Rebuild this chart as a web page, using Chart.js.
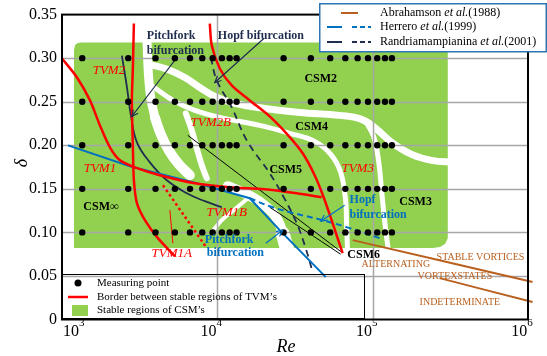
<!DOCTYPE html>
<html>
<head>
<meta charset="utf-8">
<script src="https://cdn.jsdelivr.net/npm/chart.js@4"></script>
<style>
  html, body { margin: 0; padding: 0; background: #fff; }
</style>
</head>
<body>
<canvas id="chart" width="547" height="356"></canvas>
<script>
// measuring grid
const reDots = [1350, 2670, 4000, 5330, 6670, 8000, 9330, 10700, 12000, 13300,
  26700, 40000, 53300, 66700, 80000, 93300, 107000, 120000, 133000];
const deltaRows = [0.30, 0.25, 0.20, 0.15, 0.10];

const xTicks = [1e3, 1e4, 1e5, 1e6];
const yTicks = [0, 0.05, 0.10, 0.15, 0.20, 0.25, 0.30, 0.35];

// [Re, delta] outline of the stable CSM regions
const csmRegion = [[1212, 0.309], [1230, 0.3145], [1270, 0.3163], [1330, 0.3168], [270000, 0.3168],
  [290000, 0.3157], [300000, 0.311], [300000, 0.0934], [290000, 0.0877], [270000, 0.0842],
  [243000, 0.0831], [1212, 0.0831], [1212, 0.309]];

// white gaps between the CSM regions
const gapLeftUpper = [[3518, 0.3248], [3570, 0.2939], [3624, 0.2744], [3733, 0.2538], [3962, 0.2320]];
const gapLeftLower = [[3962, 0.2320], [4330, 0.2125], [4870, 0.1942], [5650, 0.1782], [6650, 0.1656]];
const gapUpper = [[3679, 0.2927], [4800, 0.2870], [6177, 0.2778], [7712, 0.2664], [9630, 0.2561],
  [12950, 0.2480], [20190, 0.2423], [33890, 0.2377], [61270, 0.2343], [84880, 0.2297],
  [104400, 0.2194], [132300, 0.2034], [178000, 0.1896], [239600, 0.1827], [336500, 0.1804]];
const gapMiddle = [[3846, 0.2675], [5327, 0.2503], [7162, 0.2400], [10370, 0.2320], [18750, 0.2228],
  [29230, 0.2137], [42320, 0.2045], [53730, 0.1896], [62190, 0.1690], [66960, 0.1369],
  [67950, 0.1083], [68960, 0.0773]];
const gapRight = [[90200, 0.2274], [101400, 0.2102], [109100, 0.1827], [114100, 0.1484],
  [119300, 0.1140], [126500, 0.0773]];
const gapLobe = [[6270, 0.2366], [6850, 0.2171], [7375, 0.1965], [7945, 0.1770], [8555, 0.1621]];
const gapValley = [[11680, 0.1530], [15010, 0.1449], [19310, 0.1335], [23400, 0.1197],
  [26000, 0.1026], [28000, 0.0773]];
const gapValleyFoot = [[26300, 0.0990], [28300, 0.0790]];
const gapLens = [[15470, 0.1381], [12950, 0.1266], [10690, 0.1140], [9210, 0.1002]];

// borders between TVM regions
const tvm1Border = [[1000, 0.2996], [1249, 0.2778], [1514, 0.2515], [1755, 0.2228], [2035, 0.1976],
  [2360, 0.1827], [2946, 0.1747], [4266, 0.1656], [7162, 0.1564], [12020, 0.1518],
  [20190, 0.1495], [32420, 0.1449], [46950, 0.1404]];
const tvm2Border = [[2903, 0.3397], [2860, 0.2893], [2817, 0.2515], [2860, 0.1976], [2903, 0.1598],
  [3037, 0.1335], [3417, 0.1140], [4140, 0.0934], [5327, 0.0728]];
const tvm3Border = [[8943, 0.3397], [9210, 0.3145], [10370, 0.2881], [12380, 0.2687], [16170, 0.2515],
  [21740, 0.2331], [28570, 0.2114], [35440, 0.1908], [42320, 0.1656], [48350, 0.1404],
  [54430, 0.1140], [59450, 0.0934], [64060, 0.0762]];
const tvm1aDotted = [[4467, 0.1541], [8555, 0.0819]];
const tvm1aTick = [[4947, 0.1255], [5175, 0.0876]];

// Herrero et al. (1999)
const herreroPitchfork = [[1093, 0.1999], [2736, 0.1759], [7375, 0.1564], [16170, 0.1392],
  [25210, 0.1026], [49890, 0.0487]];
const herreroHopf = [[16170, 0.1392], [21740, 0.1300], [29230, 0.1232], [47650, 0.1140],
  [67950, 0.1060], [110800, 0.0934]];

// Randriamampianina et al. (2001)
const randriPitchfork = [[2430, 0.3030], [2620, 0.2664], [2776, 0.2343], [3037, 0.2034], [3679, 0.1804],
  [4730, 0.1598], [6360, 0.1449], [8305, 0.1358], [10690, 0.1289]];
const randriHopf = [[9075, 0.3007], [9926, 0.2744], [12380, 0.2435], [15470, 0.2056], [21740, 0.1678],
  [26740, 0.1404], [32420, 0.1106], [37040, 0.0819], [41100, 0.0544]];
const blackLine1 = [[6455, 0.2114], [63120, 0.0773]];
const blackLine2 = [[21740, 0.1289], [62190, 0.0750]];

// Abrahamson et al. (1988)
const abrahamson1 = [[74300, 0.0911], [1070000, 0.0430]];
const abrahamson2 = [[269800, 0.0475], [1070000, 0.0200]];

// annotation arrows (tail -> head)
const arrowPitchforkR = [[5487, 0.3007], [2817, 0.2331]];
const arrowHopfR = [[19910, 0.3225], [9630, 0.2721]];
const arrowPitchforkH = [[20510, 0.0876], [26350, 0.1026]];
const arrowHopfH = [[65980, 0.1312], [46300, 0.1129]];

const RED = '#ff0000', BLUE = '#0070c0', NAVY = '#1f2d4e', BROWN = '#b9601f', GREEN = '#92d050';
const serif = '"Liberation Serif", "Times New Roman", serif';

const notes = [
  { t: 'TVM2', re: 2005, d: 0.286, c: RED, f: 'italic 13px' },
  { t: 'TVM1', re: 1755, d: 0.1736, c: RED, f: 'italic 13px' },
  { t: 'TVM1A', re: 5095, d: 0.0762, c: RED, f: 'italic 13px' },
  { t: 'TVM1B', re: 11510, d: 0.1232, c: RED, f: 'italic 13px' },
  { t: 'TVM2B', re: 9075, d: 0.2263, c: RED, f: 'italic 13px' },
  { t: 'TVM3', re: 80100, d: 0.1736, c: RED, f: 'italic 13px' },
  { t: 'CSM\u221e', re: 1781, d: 0.1289, c: '#000', f: 'bold 12px' },
  { t: 'CSM2', re: 46300, d: 0.2767, c: '#000', f: 'bold 12px' },
  { t: 'CSM4', re: 40500, d: 0.2206, c: '#000', f: 'bold 12px' },
  { t: 'CSM5', re: 27570, d: 0.1713, c: '#000', f: 'bold 12px' },
  { t: 'CSM3', re: 189000, d: 0.1346, c: '#000', f: 'bold 12px' },
  { t: 'CSM6', re: 87500, d: 0.0739, c: '#000', f: 'bold 12px' },
  { t: 'Pitchfork', re: 3518, d: 0.326, c: NAVY, f: 'bold 12px', a: 'left' },
  { t: 'bifurcation', re: 3518, d: 0.3088, c: NAVY, f: 'bold 12px', a: 'left' },
  { t: 'Hopf bifurcation', re: 10070, d: 0.326, c: NAVY, f: 'bold 12px', a: 'left' },
  { t: 'Hopf', re: 71050, d: 0.1369, c: BLUE, f: 'bold 12px', a: 'left' },
  { t: 'bifurcation', re: 71050, d: 0.1197, c: BLUE, f: 'bold 12px', a: 'left' },
  { t: 'Pitchfork', re: 8305, d: 0.0911, c: BLUE, f: 'bold 12px', a: 'left' },
  { t: 'bifurcation', re: 8555, d: 0.0762, c: BLUE, f: 'bold 12px', a: 'left' },
  { t: 'STABLE VORTICES', re: 258000, d: 0.0716, c: BROWN, f: '10px', a: 'left' },
  { t: 'ALTERNATING', re: 84880, d: 0.0636, c: BROWN, f: '10px', a: 'left' },
  { t: 'VORTEXSTATES', re: 194500, d: 0.0498, c: BROWN, f: '10px', a: 'left' },
  { t: 'INDETERMINATE', re: 200500, d: 0.0200, c: BROWN, f: '10px', a: 'left' }
];

const pts = a => a.map(([x, y]) => ({ x, y }));

function curve(data, color, width, extra) {
  return Object.assign({
    data: pts(data), borderColor: color, backgroundColor: color, borderWidth: width,
    pointRadius: 0, fill: false, tension: 0.4, order: 50
  }, extra || {});
}

const whites = [[gapLeftUpper, 9], [gapLeftLower, 10], [gapUpper, 7], [gapMiddle, 5], [gapRight, 5],
  [gapLobe, 6], [gapValley, 10], [gapValleyFoot, 14], [gapLens, 4]];

const datasets = [
  { data: pts(csmRegion), fill: 'shape', backgroundColor: GREEN, borderColor: GREEN, borderWidth: 2,
    pointRadius: 0, tension: 0, order: 100 },
  ...whites.map(([d, w]) => curve(d, '#ffffff', w, { kind: 'white', order: 90, borderCapStyle: 'round' })),
  curve(tvm1Border, RED, 2.5, { tension: 0.3 }),
  curve(tvm2Border, RED, 2.5, { tension: 0.3 }),
  curve(tvm3Border, RED, 2.5, { tension: 0.3 }),
  curve(tvm1aDotted, RED, 2.5, { borderDash: [2.5, 3] }),
  curve(tvm1aTick, RED, 1),
  curve(herreroPitchfork, BLUE, 2, { tension: 0 }),
  curve(herreroHopf, BLUE, 2, { borderDash: [6, 4] }),
  curve(randriPitchfork, NAVY, 1.8),
  curve(randriHopf, NAVY, 1.8, { borderDash: [7, 5] }),
  curve(blackLine1, '#000', 1),
  curve(blackLine2, '#000', 1),
  curve(abrahamson1, BROWN, 2, { clip: false }),
  curve(abrahamson2, BROWN, 2, { clip: false }),
  curve(arrowPitchforkR, NAVY, 1.2, { arrow: true, order: 20 }),
  curve(arrowHopfR, NAVY, 1.2, { arrow: true, order: 20 }),
  curve(arrowPitchforkH, BLUE, 1.2, { arrow: true, order: 20 }),
  curve(arrowHopfH, BLUE, 1.2, { arrow: true, order: 20 }),
  { data: deltaRows.flatMap(d => reDots.map(r => ({ x: r, y: d }))), showLine: false,
    pointRadius: 3.2, pointBackgroundColor: '#000', pointBorderWidth: 0, order: 1 }
];

function drawGrid(chart) {
  const { ctx, chartArea: a, scales: { x, y } } = chart;
  ctx.save();
  ctx.strokeStyle = '#a6a6a6';
  ctx.lineWidth = 1.5;
  ctx.beginPath();
  xTicks.slice(1, -1).forEach(v => {
    const px = Math.round(x.getPixelForValue(v)) + 0.5;
    ctx.moveTo(px, a.top); ctx.lineTo(px, a.bottom);
  });
  yTicks.slice(1, -1).forEach(v => {
    const py = Math.round(y.getPixelForValue(v)) + 0.5;
    ctx.moveTo(a.left, py); ctx.lineTo(a.right, py);
  });
  ctx.stroke();
  ctx.restore();
}

function seg(ctx, x1, y1, x2, y2, color, w, dash) {
  ctx.save();
  ctx.strokeStyle = color; ctx.lineWidth = w; ctx.setLineDash(dash || []);
  ctx.beginPath(); ctx.moveTo(x1, y1); ctx.lineTo(x2, y2); ctx.stroke();
  ctx.restore();
}

// text made of normal / italic pieces
function runs(ctx, x, y, parts, size) {
  parts.forEach(([s, it]) => {
    ctx.font = (it ? 'italic ' : '') + size + 'px ' + serif;
    ctx.fillText(s, x, y);
    x += ctx.measureText(s).width;
  });
}

const overlay = {
  id: 'overlay',
  beforeDatasetsDraw(chart) { chart.$whiteDone = 0; },
  afterDatasetDraw(chart, args) {
    const ds = chart.data.datasets[args.index];
    if (ds.kind === 'white' && ++chart.$whiteDone === whites.length) drawGrid(chart);
  },
  afterDatasetsDraw(chart) {
    const ctx = chart.ctx;
    chart.data.datasets.forEach((ds, i) => {
      if (!ds.arrow) return;
      const p = chart.getDatasetMeta(i).data;
      const a = p[p.length - 2], b = p[p.length - 1];
      const ang = Math.atan2(b.y - a.y, b.x - a.x);
      ctx.save();
      ctx.strokeStyle = ds.borderColor; ctx.lineWidth = 1.2;
      ctx.beginPath();
      ctx.moveTo(b.x - 7 * Math.cos(ang - 0.45), b.y - 7 * Math.sin(ang - 0.45));
      ctx.lineTo(b.x, b.y);
      ctx.lineTo(b.x - 7 * Math.cos(ang + 0.45), b.y - 7 * Math.sin(ang + 0.45));
      ctx.stroke();
      ctx.restore();
    });
  },
  afterDraw(chart) {
    const { ctx, chartArea: a, scales: { x, y } } = chart;
    ctx.save();

    // annotations
    ctx.textBaseline = 'middle';
    notes.forEach(n => {
      ctx.font = n.f + ' ' + serif;
      ctx.fillStyle = n.c;
      ctx.textAlign = n.a || 'center';
      ctx.fillText(n.t, x.getPixelForValue(n.re), y.getPixelForValue(n.d));
    });

    // frame
    ctx.strokeStyle = '#000';
    ctx.lineWidth = 2;
    ctx.strokeRect(a.left, a.top, a.right - a.left, a.bottom - a.top);

    // x tick labels 10^n
    ctx.fillStyle = '#000';
    ctx.textAlign = 'left';
    ctx.textBaseline = 'alphabetic';
    xTicks.forEach(v => {
      const e = String(Math.round(Math.log10(v)));
      ctx.font = '16px ' + serif;
      const w1 = ctx.measureText('10').width;
      ctx.font = '11px ' + serif;
      const w2 = ctx.measureText(e).width;
      const left = Math.max(a.left + 1, x.getPixelForValue(v) - (w1 + w2) / 2 - 6);
      ctx.font = '16px ' + serif;
      ctx.fillText('10', left, 336);
      ctx.font = '11px ' + serif;
      ctx.fillText(e, left + w1, 326);
    });

    // axis titles
    ctx.font = 'italic 18px ' + serif;
    ctx.textAlign = 'center';
    ctx.textBaseline = 'middle';
    ctx.fillText('Re', 286, 347);
    ctx.save();
    ctx.translate(22, 163);
    ctx.rotate(-Math.PI / 2);
    ctx.fillText('\u03b4', 0, 0);
    ctx.restore();

    // legend inside the plot
    ctx.lineWidth = 1;
    ctx.strokeStyle = '#000';
    ctx.strokeRect(62.5, 274.5, 302, 44);
    ctx.fillStyle = '#000';
    ctx.beginPath(); ctx.arc(78, 283, 3.5, 0, Math.PI * 2); ctx.fill();
    seg(ctx, 68, 297, 88, 297, RED, 2.5);
    ctx.fillStyle = GREEN;
    ctx.fillRect(72, 305, 16, 11);
    ctx.fillStyle = '#000';
    ctx.textAlign = 'left';
    ctx.font = '11px ' + serif;
    ctx.fillText('Measuring point', 97, 283);
    ctx.fillText('Border between stable regions of TVM\u2019s', 97, 297);
    ctx.fillText('Stable regions of CSM\u2019s', 97, 310);

    // legend of other studies
    ctx.fillStyle = '#fff';
    ctx.fillRect(319, 3, 228, 49);
    ctx.strokeStyle = '#2e75b6';
    ctx.lineWidth = 1.5;
    ctx.strokeRect(319.75, 3.75, 226.5, 48);
    seg(ctx, 341, 13, 358, 13, BROWN, 2);
    seg(ctx, 327, 27, 342, 27, BLUE, 2);
    seg(ctx, 352, 27, 371, 27, BLUE, 2, [5, 3]);
    seg(ctx, 327, 42, 342, 42, NAVY, 2);
    seg(ctx, 352, 42, 371, 42, NAVY, 2, [5, 3]);
    ctx.fillStyle = '#000';
    runs(ctx, 380, 13, [['Abrahamson ', false], ['et al.', true], ['(1988)', false]], 12);
    runs(ctx, 380, 27, [['Herrero ', false], ['et al.', true], ['(1999)', false]], 12);
    runs(ctx, 380, 42, [['Randriamampianina ', false], ['et al.', true], ['(2001)', false]], 12);

    ctx.restore();
  }
};

new Chart(document.getElementById('chart'), {
  type: 'line',
  data: { datasets },
  options: {
    responsive: false,
    animation: false,
    devicePixelRatio: 1,
    layout: { padding: { top: 14, right: 19, left: 0, bottom: 0 } },
    plugins: { legend: { display: false }, tooltip: { enabled: false } },
    scales: {
      x: {
        type: 'logarithmic', min: 1e3, max: 1e6,
        grid: { display: false, drawTicks: false }, border: { display: false },
        ticks: { display: false },
        afterBuildTicks: s => { s.ticks = xTicks.map(value => ({ value })); },
        afterFit: s => { s.height = 36.5; }
      },
      y: {
        type: 'linear', min: 0, max: 0.35,
        grid: { display: false, drawTicks: false }, border: { display: false },
        afterBuildTicks: s => { s.ticks = yTicks.map(value => ({ value })); },
        ticks: {
          color: '#000', padding: 5, font: { family: serif, size: 16 },
          callback: v => v === 0 ? '0' : v.toFixed(2)
        },
        afterFit: s => { s.width = 62; }
      }
    }
  },
  plugins: [overlay]
});
</script>
</body>
</html>
